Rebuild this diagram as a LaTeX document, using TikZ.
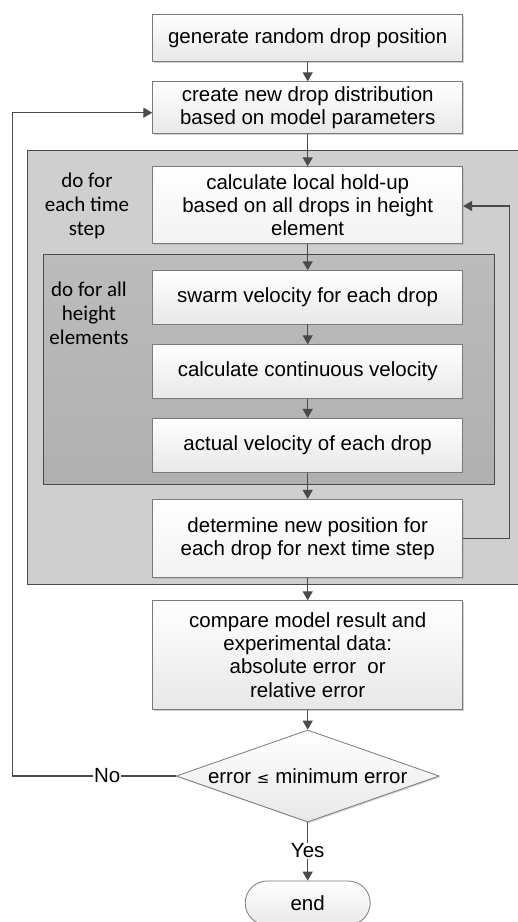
\documentclass[tikz,border=0pt]{standalone}
\usepackage{fontspec}
\setmainfont{Liberation Sans}
\newfontfamily\calfont{Carlito}
\newfontfamily\symfont{DejaVu Sans}
\usetikzlibrary{shapes.geometric,shapes.misc,arrows.meta,shadows}
\definecolor{bordergray}{HTML}{7A7A7A}
\definecolor{linegray}{HTML}{4A4A4A}
\definecolor{outergray}{HTML}{CFCFCF}
\definecolor{innergray}{HTML}{B0B0B0}
\definecolor{boxbottom}{HTML}{E8E8E8}
\tikzset{
  x=1pt, y=-1pt,
  txt/.style={font=\fontsize{20.5}{23.3}\selectfont, text=black},
  procbox/.style={draw=bordergray, line width=0.8pt, top color=white, bottom color=boxbottom,
    minimum width=310pt, align=center, inner sep=0pt, txt,
    drop shadow={shadow xshift=1.2pt, shadow yshift=-1.2pt, fill=black!30, opacity=0.6}},
  whitebox/.style={procbox, top color=white, bottom color=white!95!black},
  decision/.style={diamond, aspect=2.85, draw=bordergray, line width=0.8pt, top color=white,
    bottom color=boxbottom, inner sep=0pt, minimum width=263pt, minimum height=92pt, txt,
    drop shadow={shadow xshift=1.2pt, shadow yshift=-1.2pt, fill=black!30, opacity=0.6}},
  terminal/.style={rounded rectangle, draw=bordergray, line width=0.8pt, top color=white,
    bottom color=boxbottom, minimum width=125pt, minimum height=44pt, inner sep=0pt, txt},
  looplabel/.style={font=\calfont\fontsize{21}{24}\selectfont, align=center, text=black},
  conn/.style={draw=linegray, line width=1.3pt, -{Triangle[length=9pt,width=10pt]}},
  plainconn/.style={draw=linegray, line width=1.3pt},
  frame/.style={draw=linegray, line width=0.8pt}
}
\begin{document}
\begin{tikzpicture}
\useasboundingbox (0,0) rectangle (518,922);
% loop frames
\path[frame, fill=outergray] (27.3,150) rectangle (519,584);
\path[frame, top color=innergray!85, bottom color=innergray] (43.3,254.7) rectangle (494.3,484.3);
\node[looplabel] (lblt) at (87,206) {do for\\each time\\step};
\node[looplabel] (lblh) at (89,313) {do for all\\height\\elements};
% nodes
\node[procbox, minimum height=47.4pt] (gen) at (307.7,38) {generate random drop position};
\node[procbox, minimum height=51.6pt] (create) at (307.7,107.5) {create new drop distribution\\based on model parameters};
\node[whitebox, minimum height=76.6pt] (hold) at (307.7,205) {calculate local hold-up\\based on all drops in height\\element};
\node[procbox, minimum height=53.3pt] (swarm) at (307.7,297.3) {swarm velocity for each drop};
\node[procbox, minimum height=53.6pt] (cont) at (307.7,371.5) {calculate continuous velocity};
\node[procbox, minimum height=54pt] (act) at (307.7,445.3) {actual velocity of each drop};
\node[whitebox, minimum height=78.4pt] (det) at (307.7,538.5) {determine new position for\\each drop for next time step};
\node[procbox, minimum height=108.6pt] (cmp) at (307.7,655) {compare model result and\\experimental data:\\absolute error\ \ or\\relative error};
\node[decision] (dec) at (307.7,776) {error {\symfont\fontsize{15}{18}\selectfont ≤} minimum error};
\node[terminal] (end) at (307.7,903) {end};
% connectors
\draw[conn] (gen) -- (create);
\draw[conn] (create) -- (hold);
\draw[conn] (hold) -- (swarm);
\draw[conn] (swarm) -- (cont);
\draw[conn] (cont) -- (act);
\draw[conn] (act) -- (det);
\draw[conn] (det) -- (cmp);
\draw[conn] (cmp) -- (dec);
\coordinate (rb) at (509.3,538.7);
\coordinate (rt) at (509.3,206);
\draw[conn] (det.east |- rb) -- (rb) -- (rt) -- (hold.east |- rt);
\coordinate (lb) at (12.3,776);
\coordinate (lt) at (12.3,112.7);
\draw[conn] (dec.west) -- node[pos=0.42, fill=white, inner sep=1pt, txt] (no) {No} (lb) -- (lt) -- (create.west |- lt);
\node[txt, fill=white, inner sep=1pt] (yes) at (307.7,851) {Yes};
\draw[plainconn] (dec.south) -- (yes.north);
\draw[conn] (yes.south) -- (end.north);
\end{tikzpicture}
\end{document}
